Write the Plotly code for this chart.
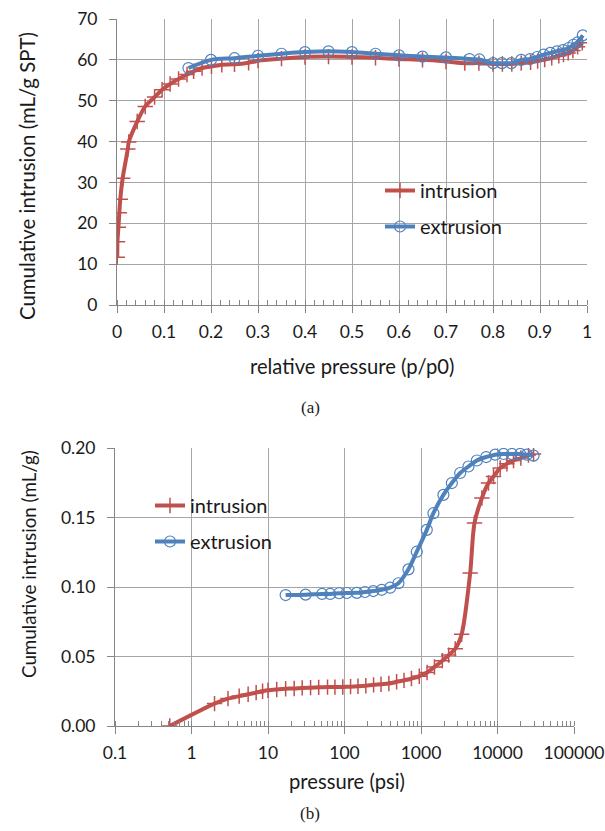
import plotly.graph_objects as go

# ---- (a) relative pressure isotherm ----
rel_p_intrusion = [0.0005, 0.001, 0.003, 0.005, 0.007, 0.012, 0.023, 0.025, 0.043, 0.060,
                   0.080, 0.096, 0.113, 0.131, 0.149, 0.163, 0.181, 0.201, 0.223, 0.25,
                   0.28, 0.30, 0.35, 0.40, 0.45, 0.50, 0.55, 0.60, 0.65, 0.70,
                   0.74, 0.77, 0.80, 0.82, 0.84, 0.86, 0.88, 0.895, 0.91, 0.925,
                   0.94, 0.95, 0.96, 0.97, 0.98, 0.99]
vol_intrusion_a = [11.7, 15.5, 19.0, 22.6, 25.9, 31.0, 38.2, 39.9, 44.9, 48.6,
                   50.9, 52.7, 54.1, 55.3, 56.4, 57.2, 58.0, 58.4, 58.8, 58.9,
                   59.3, 59.8, 60.3, 60.7, 60.8, 60.7, 60.5, 60.2, 60.0, 59.6,
                   59.2, 59.2, 59.0, 59.0, 59.0, 59.2, 59.4, 59.7, 60.1, 60.5,
                   61.0, 61.3, 61.7, 62.3, 63.2, 64.2]

rel_p_extrusion = [0.152, 0.20, 0.25, 0.30, 0.35, 0.40, 0.45, 0.50, 0.55, 0.60,
                   0.65, 0.70, 0.75, 0.771, 0.80, 0.819, 0.839, 0.860, 0.879, 0.894,
                   0.908, 0.922, 0.936, 0.949, 0.961, 0.971, 0.980, 0.991]
vol_extrusion_a = [58.0, 60.0, 60.4, 61.0, 61.5, 61.9, 62.1, 61.9, 61.5, 61.1,
                   60.8, 60.6, 60.2, 60.1, 59.2, 59.2, 59.2, 60.0, 60.2, 60.7,
                   61.3, 61.7, 62.1, 62.4, 62.9, 63.7, 64.3, 66.0]

# ---- (b) mercury porosimetry ----
p_intrusion = [0.52, 2.0, 3.0, 4.2, 5.5, 7.0, 8.5, 10, 13, 17,
               22, 28, 36, 46, 60, 75, 95, 120, 150, 190,
               240, 300, 380, 480, 600, 750, 950, 1200, 1500, 1900,
               2300, 2800, 3400, 4390, 5000, 6250, 7620, 8870, 10840, 13270,
               16200, 20200, 25400, 29600]
vol_intrusion_b = [0.000, 0.0161, 0.0197, 0.0215, 0.0228, 0.0240, 0.0250, 0.0257, 0.0263, 0.0268,
                   0.0270, 0.0274, 0.0276, 0.0278, 0.0280, 0.0280, 0.0281, 0.0283, 0.0286, 0.0290,
                   0.0296, 0.0300, 0.0306, 0.0318, 0.0328, 0.0342, 0.0358, 0.0385, 0.0425, 0.0470,
                   0.0510, 0.0555, 0.0660, 0.1100, 0.1460, 0.1640, 0.1748, 0.1795, 0.1856, 0.1887,
                   0.1910, 0.1928, 0.1950, 0.1957]

p_extrusion = [17, 31, 51, 65, 85, 107, 145, 185, 238, 307,
               395, 507, 685, 881, 1190, 1453, 1963, 2530, 3250, 4170,
               5370, 7110, 9330, 12000, 15400, 19800, 24250, 29600]
vol_extrusion_b = [0.0942, 0.0945, 0.0950, 0.0950, 0.0955, 0.0957, 0.0958, 0.0964, 0.0971, 0.0980,
                   0.0995, 0.1027, 0.1127, 0.1254, 0.1411, 0.1531, 0.1663, 0.1748, 0.1820, 0.1867,
                   0.1910, 0.1935, 0.1952, 0.1957, 0.1957, 0.1957, 0.1952, 0.1945]

x_ticks_a = [0, 0.1, 0.2, 0.3, 0.4, 0.5, 0.6, 0.7, 0.8, 0.9, 1]
x_labels_a = ["0", "0.1", "0.2", "0.3", "0.4", "0.5", "0.6", "0.7", "0.8", "0.9", "1"]
x_ticks_b = [0.1, 1, 10, 100, 1000, 10000, 100000]
x_labels_b = ["0.1", "1", "10", "100", "1000", "10000", "100000"]

W, H = 605, 831
RED = "#C0504D"
BLUE = "#4F81BD"
GRID = "#A6A6A6"
AXIS = "#868686"
TXT = "#1a1a1a"
FONT = "Lato"


def px_x(v):
    return v / W


def px_y(v):
    return 1 - v / H


def intrusion(x, y, xa, ya, lg):
    return go.Scatter(x=x, y=y, xaxis=xa, yaxis=ya, name="intrusion", mode="lines+markers",
                      line=dict(color=RED, width=4, shape="spline", smoothing=0.8),
                      marker=dict(symbol="cross-thin", size=11, color=RED,
                                  line=dict(color=RED, width=1.5)),
                      legend=lg, legendgroup=lg + "i")


def extrusion(x, y, xa, ya, lg):
    return go.Scatter(x=x, y=y, xaxis=xa, yaxis=ya, name="extrusion", mode="lines+markers",
                      line=dict(color=BLUE, width=4, shape="spline", smoothing=0.8),
                      marker=dict(symbol="circle-open", size=11, color=BLUE,
                                  line=dict(color=BLUE, width=1.2)),
                      legend=lg, legendgroup=lg + "e")


fig = go.Figure()
fig.add_trace(intrusion(rel_p_intrusion, vol_intrusion_a, "x", "y", "legend"))
fig.add_trace(extrusion(rel_p_extrusion, vol_extrusion_a, "x", "y", "legend"))
fig.add_trace(intrusion(p_intrusion, vol_intrusion_b, "x2", "y2", "legend2"))
fig.add_trace(extrusion(p_extrusion, vol_extrusion_b, "x2", "y2", "legend2"))

tickfont = dict(family=FONT, size=17.5, color=TXT)
common_x = dict(showgrid=True, gridcolor=GRID, gridwidth=1, showline=True, linecolor=AXIS,
                linewidth=1, ticks="outside", ticklen=7, tickcolor=AXIS, tickfont=tickfont,
                zeroline=False, automargin=False, ticklabelstandoff=4)
common_y = dict(showgrid=True, gridcolor=GRID, gridwidth=1, showline=True, linecolor=AXIS,
                linewidth=1, ticks="outside", ticklen=7, tickcolor=AXIS, tickfont=tickfont,
                zeroline=False, automargin=False, ticklabelstandoff=8)
legend_style = dict(xanchor="left", yanchor="top", bgcolor="rgba(0,0,0,0)",
                    font=dict(family=FONT, size=20, color=TXT),
                    traceorder="grouped", tracegroupgap=7, itemwidth=30)


def label(text, x, y, size, angle=0, family=FONT):
    return dict(text=text, x=px_x(x), y=px_y(y), xref="paper", yref="paper",
                xanchor="center", yanchor="middle", textangle=angle, showarrow=False,
                font=dict(family=family, size=size, color=TXT))


def legend_box(x0, y0, x1, y1):
    # white patch behind the legend that hides the gridlines, as in the original
    return dict(type="rect", xref="paper", yref="paper", layer="between",
                x0=px_x(x0), x1=px_x(x1), y0=px_y(y1), y1=px_y(y0),
                fillcolor="white", line=dict(width=0))


fig.update_layout(
    width=W, height=H,
    margin=dict(l=0, r=0, t=0, b=0),
    paper_bgcolor="white", plot_bgcolor="white",
    font=dict(family=FONT, size=18, color=TXT),
    xaxis=dict(common_x, domain=[px_x(117), px_x(587)], anchor="y", range=[0, 1],
               tickvals=x_ticks_a, ticktext=x_labels_a,
               minor=dict(ticks="inside", ticklen=5, dtick=0.02, tickcolor=AXIS, showgrid=False)),
    yaxis=dict(common_y, domain=[px_y(305), px_y(19)], anchor="x", range=[0, 70],
               dtick=10),
    xaxis2=dict(common_x, domain=[px_x(115), px_x(574)], anchor="y2", type="log",
                range=[-1, 5], tickvals=x_ticks_b, ticktext=x_labels_b,
                minor=dict(ticks="inside", ticklen=5, dtick="D1", tickcolor=AXIS, showgrid=False)),
    yaxis2=dict(common_y, domain=[px_y(726), px_y(448)], anchor="x2", range=[0, 0.2],
                dtick=0.05, tickformat=".2f"),
    legend=dict(legend_style, x=px_x(380), y=px_y(171)),
    legend2=dict(legend_style, x=px_x(150), y=px_y(486)),
    shapes=[legend_box(357, 172, 530, 248), legend_box(129, 473, 297, 562)],
    annotations=[
        label("Cumulative intrusion (mL/g SPT)", 27, 176, 20.4, -90),
        label("relative pressure (p/p0)", 352, 366, 20.2),
        label("(a)", 310, 407, 17, family="Liberation Serif"),
        label("Cumulative intrusion (mL/g)", 28, 564, 18.8, -90),
        label("pressure (psi)", 347, 781, 20.2),
        label("(b)", 310, 813, 17, family="Liberation Serif"),
    ],
)

fig.write_html("out.html", config={"displayModeBar": False},
               post_script="document.body.style.margin='0';")
